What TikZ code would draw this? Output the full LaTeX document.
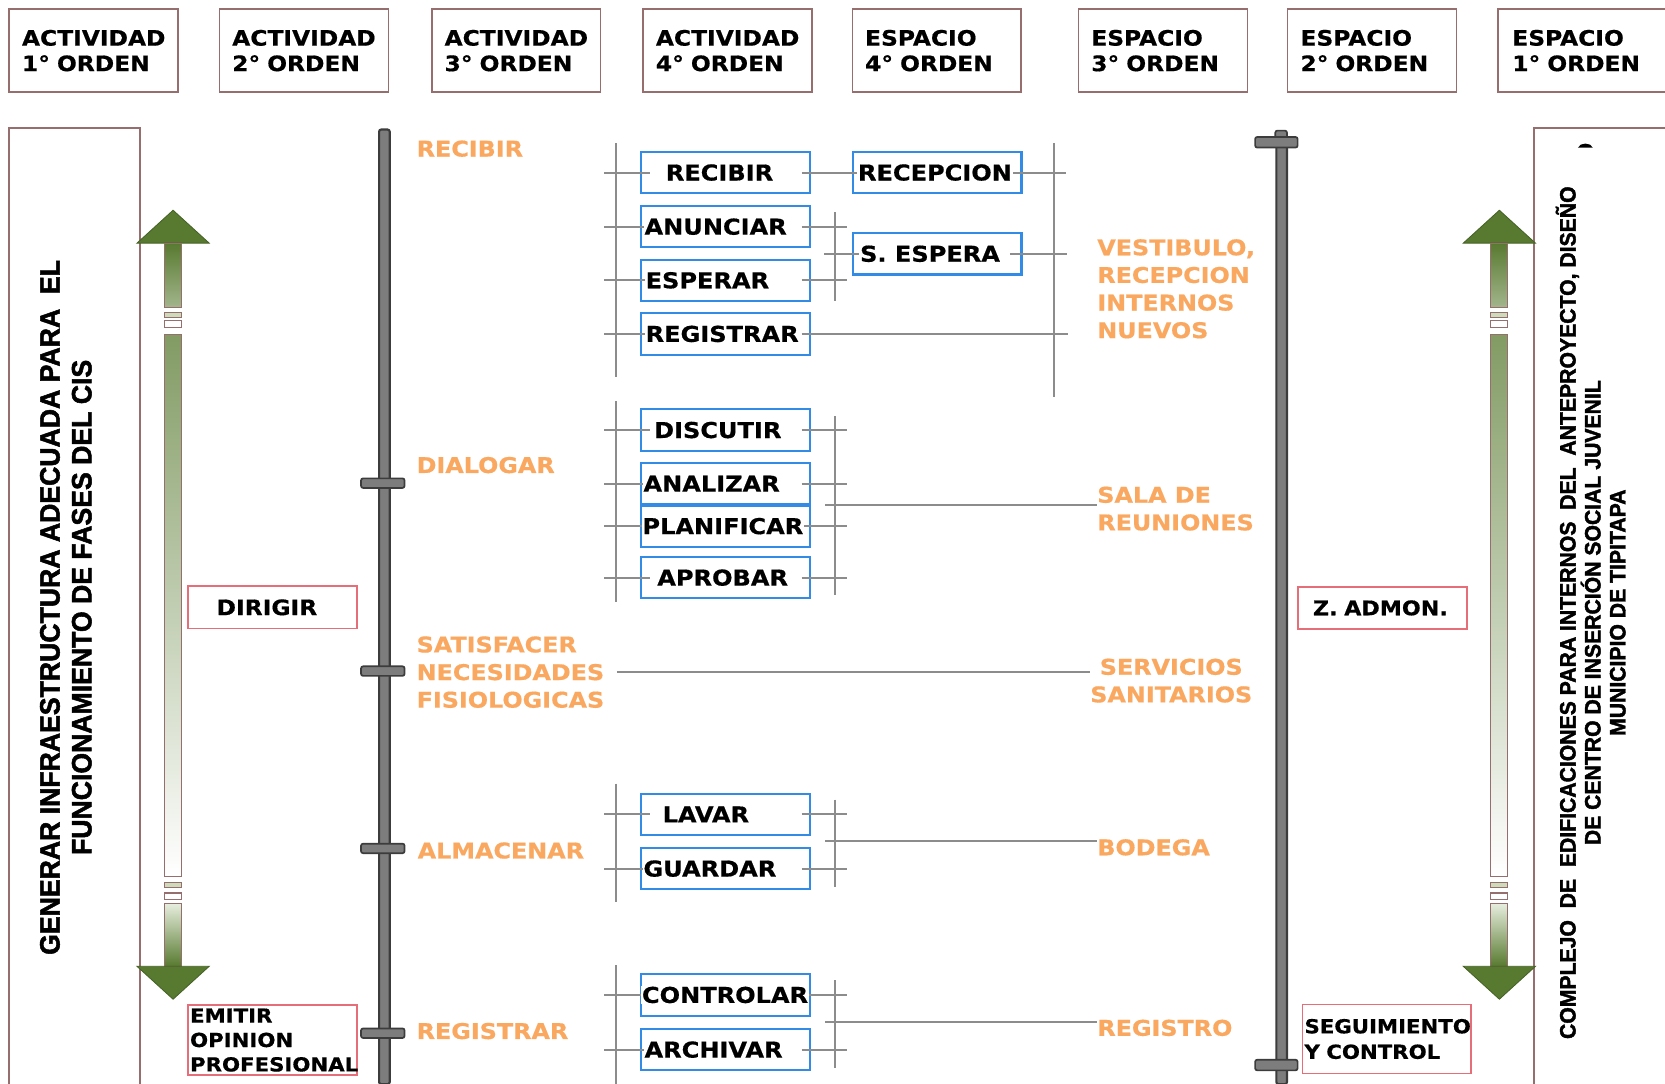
\documentclass[tikz,border=0pt]{standalone}
\usepackage{fontspec}
\setmainfont{DejaVu Sans}
\newfontfamily\lbl[FakeStretch=1.1, FakeBold=0.6]{DejaVu Sans Bold}
\newfontfamily\lsn[FakeStretch=0.95, FakeBold=1.8]{Liberation Sans Bold}
\definecolor{orng}{RGB}{250,168,96}
\definecolor{bluebox}{RGB}{50,140,230}
\definecolor{pinkbox}{RGB}{230,110,120}
\definecolor{brownbox}{RGB}{150,110,110}
\definecolor{gline}{RGB}{140,140,140}
\definecolor{dgreen}{RGB}{88,122,48}
\definecolor{lgreen}{RGB}{170,195,140}
\definecolor{bardark}{RGB}{60,60,60}
\definecolor{barmid}{RGB}{125,125,125}
\newcommand\grarrow[1]{%
  \filldraw[fill=dgreen, draw=dgreen!80!black, line width=0.4pt] ({#1-34},229) -- (#1,198) -- ({#1+34},229) -- cycle;
  \shadedraw[top color=dgreen, bottom color=dgreen!55, draw=brownbox, line width=0.5pt] ({#1-8},229) rectangle ({#1+8},290);
  \filldraw[fill=lgreen!60, draw=brownbox, line width=0.5pt] ({#1-8},294) rectangle ({#1+8},299);
  \filldraw[fill=white, draw=brownbox, line width=0.5pt] ({#1-8},302) rectangle ({#1+8},308);
  \shadedraw[top color=dgreen!75, middle color=lgreen!45, bottom color=white, draw=brownbox, line width=0.5pt] ({#1-8},315) rectangle ({#1+8},825);
  \filldraw[fill=lgreen!60, draw=brownbox, line width=0.5pt] ({#1-8},831) rectangle ({#1+8},836);
  \filldraw[fill=white, draw=brownbox, line width=0.5pt] ({#1-8},841) rectangle ({#1+8},847);
  \shadedraw[top color=lgreen!30, bottom color=dgreen, draw=brownbox, line width=0.5pt] ({#1-8},851) rectangle ({#1+8},910);
  \filldraw[fill=dgreen, draw=dgreen!80!black, line width=0.4pt] ({#1-34},910) -- (#1,941) -- ({#1+34},910) -- cycle;
}
\begin{document}
\begin{tikzpicture}[x=0.5pt,y=-0.5pt,
  hdr/.style={draw=brownbox, line width=0.7pt, anchor=north west, minimum width=79.5pt, minimum height=39pt, inner xsep=6pt, inner ysep=0pt, text width=67.5pt, align=left, font=\lbl\fontsize{10}{12}\selectfont},
  bigbox/.style={draw=brownbox, line width=0.8pt, anchor=north west, inner sep=0pt, minimum height=452pt},
  bbox/.style={draw=bluebox, line width=1pt, minimum width=79.5pt, minimum height=19.5pt, inner sep=0pt},
  btxt/.style={font=\lbl\fontsize{10.3}{12}\selectfont, fill=white, inner sep=0.3pt, anchor=west},
  pbox/.style={draw=pinkbox, line width=0.8pt, minimum width=79.5pt, inner xsep=1pt, inner ysep=0pt, text width=77.5pt, align=left},
  otxt/.style={font=\lbl\fontsize{10.2}{13}\selectfont, text=orng, inner sep=0pt, anchor=west, align=left},
  gl/.style={draw=gline, line width=0.9pt},
  barst/.style={fill=barmid, draw=bardark, line width=0.8pt, rounded corners=1pt}]
\useasboundingbox (0,0) rectangle (1568,1020);
\fill[white] (0,0) rectangle (1568,1020);

% headers
\node[hdr] (h1) at (8,8) {ACTIVIDAD\\1° ORDEN};
\node[hdr] (h2) at (206,8) {ACTIVIDAD\\2° ORDEN};
\node[hdr] (h3) at (406,8) {ACTIVIDAD\\3° ORDEN};
\node[hdr] (h4) at (605,8) {ACTIVIDAD\\4° ORDEN};
\node[hdr] (h5) at (802,8) {ESPACIO\\4° ORDEN};
\node[hdr] (h6) at (1015,8) {ESPACIO\\3° ORDEN};
\node[hdr] (h7) at (1212,8) {ESPACIO\\2° ORDEN};
\node[hdr, text width=66pt] (h8) at (1410,8) {ESPACIO\\1° ORDEN};

% big side boxes
\node[bigbox, minimum width=61.5pt] (lbox) at (8,120) {};
\node[bigbox, minimum width=63pt] (rbox) at (1444,120) {};
\node[rotate=90, align=center, inner sep=0pt, font=\lsn\fontsize{13.2}{15}\selectfont] (ltext) at (62,572)
  {GENERAR INFRAESTRUCTURA ADECUADA PARA~~EL\\FUNCIONAMIENTO DE FASES DEL CIS};
\node[rotate=90, align=center, inner sep=0pt, font=\lsn\fontsize{10.5}{11.75}\selectfont] (rtext) at (1498,577)
  {COMPLEJO~~DE~~EDIFICACIONES PARA INTERNOS~~DEL~~ANTEPROYECTO, DISEÑO\\DE CENTRO DE INSERCIÓN SOCIAL JUVENIL\\MUNICIPIO DE TIPITAPA};
\fill (1486,139) .. controls (1488,134) and (1498,134) .. (1500,139) -- cycle;

% time bars
\filldraw[barst, line width=1pt] (357,122) rectangle (367,1021);
\foreach \yy in {455,632,799,973} \filldraw[barst] (340,{\yy-4.5}) rectangle (381,{\yy+4.5});
\filldraw[barst, line width=1pt] (1202,127) rectangle (1212,1021);
\filldraw[barst] (1201,123) rectangle (1212,130);
\filldraw[barst] (1182,129) rectangle (1222,139);
\filldraw[barst] (1182,998) rectangle (1222,1008);

% green arrows
\grarrow{163}
\grarrow{1412}

% blue boxes
\node[bbox] (bRecibir) at (683.5,162.5) {};
\node[bbox] (bAnunciar) at (683.5,213.5) {};
\node[bbox] (bEsperar) at (683.5,264) {};
\node[bbox] (bRegistrar) at (683.5,314.5) {};
\node[bbox] (bDiscutir) at (683.5,405) {};
\node[bbox] (bAnalizar) at (683.5,455.5) {};
\node[bbox] (bPlanificar) at (683.5,495.5) {};
\node[bbox] (bAprobar) at (683.5,544) {};
\node[bbox] (bLavar) at (683.5,767) {};
\node[bbox] (bGuardar) at (683.5,818) {};
\node[bbox] (bControlar) at (683.5,937) {};
\node[bbox] (bArchivar) at (683.5,988.5) {};
\node[bbox] (bRecepcion) at (882.5,162.5) {};
\node[bbox] (bEspera) at (882.5,239) {};

% pink boxes
\node[pbox, minimum height=20pt, font=\lbl\fontsize{10}{12}\selectfont] (pDirigir) at (256.5,572) {\hspace*{12.5pt}DIRIGIR};
\node[pbox, minimum height=33pt, font=\lbl\fontsize{9.1}{11.5}\selectfont] (pEmitir) at (256.5,979.5) {EMITIR\\OPINION\\PROFESIONAL};
\node[pbox, minimum height=20pt, font=\lbl\fontsize{9.5}{12}\selectfont] (pAdmon) at (1302,572.5) {\hspace*{6pt}Z. ADMON.};
\node[pbox, minimum height=32.5pt, font=\lbl\fontsize{9.1}{12}\selectfont] (pSeg) at (1306,978.5) {SEGUIMIENTO\\Y CONTROL};

% orange labels
\node[otxt] (oRecibir) at (392,140) {RECIBIR};
\node[otxt] (oDialogar) at (392,438) {DIALOGAR};
\node[otxt] (oSatisfacer) at (392,633) {SATISFACER\\NECESIDADES\\FISIOLOGICAS};
\node[otxt] (oAlmacenar) at (393,801) {ALMACENAR};
\node[otxt] (oRegistrar) at (392,971) {REGISTRAR};
\node[otxt] (oVest) at (1033,272) {VESTIBULO,\\RECEPCION\\INTERNOS\\NUEVOS};
\node[otxt] (oSala) at (1033,479) {SALA DE\\REUNIONES};
\node[otxt, align=center, anchor=center] (oServ) at (1103,641) {SERVICIOS\\SANITARIOS};
\node[otxt] (oBodega) at (1033,798) {BODEGA};
\node[otxt] (oRegistro) at (1033,968) {REGISTRO};

% connectors
\coordinate (g1a) at (580,135); \coordinate (g1b) at (580,355);
\coordinate (g1c) at (993,135); \coordinate (g1d) at (993,374);
\coordinate (m1a) at (786,200); \coordinate (m1b) at (786,283);
\coordinate (g2a) at (580,378); \coordinate (g2b) at (580,567);
\coordinate (m2a) at (786,392); \coordinate (m2b) at (786,560);
\coordinate (g4a) at (580,738); \coordinate (g4b) at (580,849);
\coordinate (m4a) at (786,753); \coordinate (m4b) at (786,835);
\coordinate (g5a) at (580,909); \coordinate (g5b) at (580,1021);
\coordinate (m5a) at (786,923); \coordinate (m5b) at (786,1006);
\foreach \pa/\pb in {g1a/g1b,g1c/g1d,m1a/m1b,g2a/g2b,m2a/m2b,g4a/g4b,m4a/m4b,g5a/g5b,m5a/m5b}
  \draw[gl] (\pa) -- (\pb);
\foreach \bx in {bRecibir,bAnunciar,bEsperar,bRegistrar,bDiscutir,bAnalizar,bPlanificar,bAprobar,bLavar,bGuardar,bControlar,bArchivar}
  \draw[gl] ([xshift=4.5pt]\bx.west) -- ++(-43,0);
\foreach \bx in {bAnunciar,bEsperar,bDiscutir,bAnalizar,bPlanificar,bAprobar,bLavar,bGuardar,bControlar,bArchivar}
  \draw[gl] ([xshift=-4.5pt]\bx.east) -- ++(43,0);
\draw[gl] ([xshift=4.5pt]bEspera.west) -- ++(-35,0);
\draw[gl] ([xshift=-6pt]bEspera.east) -- ++(54,0);
\draw[gl] ([xshift=-4.5pt]bRecibir.east) -- (bRecepcion.west) -- ([xshift=20.5pt]bRecepcion.east);
\draw[gl] ([xshift=-4.5pt]bRegistrar.east) -- ++(251,0);
\coordinate (s2) at (777,476); \draw[gl] (s2) -- (s2 -| oSala.west);
\coordinate (s3) at (581,633); \draw[gl] (s3) -- (s3 -| oServ.west);
\coordinate (s4) at (777,792); \draw[gl] (s4) -- (s4 -| oBodega.west);
\coordinate (s5) at (777,962.5); \draw[gl] (s5) -- (s5 -| oRegistro.west);

% box texts
\node[btxt, xshift=11.5pt] (tRecibir) at (bRecibir.west) {RECIBIR};
\node[btxt, xshift=1.5pt] (tAnunciar) at (bAnunciar.west) {ANUNCIAR};
\node[btxt, xshift=2pt] (tEsperar) at (bEsperar.west) {ESPERAR};
\node[btxt, xshift=2pt] (tRegistrar) at (bRegistrar.west) {REGISTRAR};
\node[btxt, xshift=6pt] (tDiscutir) at (bDiscutir.west) {DISCUTIR};
\node[btxt, xshift=1pt] (tAnalizar) at (bAnalizar.west) {ANALIZAR};
\node[btxt, xshift=0.5pt] (tPlanificar) at (bPlanificar.west) {PLANIFICAR};
\node[btxt, xshift=7.5pt] (tAprobar) at (bAprobar.west) {APROBAR};
\node[btxt, xshift=10pt] (tLavar) at (bLavar.west) {LAVAR};
\node[btxt, xshift=1pt] (tGuardar) at (bGuardar.west) {GUARDAR};
\node[btxt, xshift=0.3pt] (tControlar) at (bControlar.west) {CONTROLAR};
\node[btxt, xshift=1.5pt] (tArchivar) at (bArchivar.west) {ARCHIVAR};
\node[btxt, xshift=2.5pt] (tRecepcion) at (bRecepcion.west) {RECEPCION};
\node[btxt, xshift=3.5pt] (tEspera) at (bEspera.west) {S. ESPERA};
\end{tikzpicture}
\end{document}
